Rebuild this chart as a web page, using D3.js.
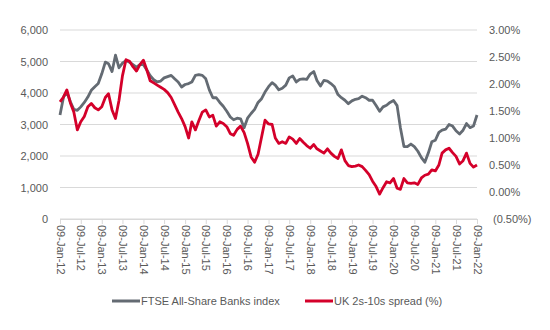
<!DOCTYPE html>
<html>
<head>
<meta charset="utf-8">
<script src="https://cdn.jsdelivr.net/npm/d3@7"></script>
<style>
body { margin: 0; background: #fff; }
svg text { font-family: "Liberation Sans", Arial, sans-serif; font-size: 11px; fill: #595959; }
.grid line { stroke: #d9d9d9; stroke-width: 1; }
</style>
</head>
<body>
<svg width="550" height="330"></svg>
<script>

// monthly closes, Jan 2012 .. Jan 2022
var banksIndex = [
  3300, 3870, 4030, 3720, 3480, 3450, 3560, 3700, 3870, 4085, 4200, 4300,
  4610, 4980, 4930, 4680, 5200, 4800, 4950, 5030, 4980, 4900, 4820, 4900,
  4900, 4720, 4550, 4420, 4350, 4380, 4480, 4520, 4560, 4450, 4350, 4190,
  4270, 4300, 4350, 4560, 4580, 4560, 4450, 4100, 3850, 3850, 3700, 3580,
  3420, 3240, 3150, 3200, 3180, 2900, 3200, 3350, 3480, 3700, 3820, 4030,
  4200, 4330, 4250, 4100, 4150, 4250, 4480, 4540, 4350, 4430, 4450, 4430,
  4600, 4680, 4400, 4220, 4400, 4380, 4300, 4200, 3950, 3850, 3770, 3660,
  3750, 3800, 3820, 3900, 3850, 3770, 3770, 3600, 3420, 3560, 3610, 3700,
  3760, 3600, 2900, 2300, 2300, 2380, 2300, 2150, 1950, 1800, 2100, 2450,
  2500, 2750, 2820, 2850, 3000, 2950, 2800, 2700, 2820, 3030, 2900, 2950,
  3300
];

var spread2s10s = [
  1.67, 1.76, 1.89, 1.65, 1.48, 1.15, 1.30, 1.40, 1.58, 1.64, 1.56, 1.52,
  1.58, 1.75, 1.82, 1.52, 1.36, 1.70, 2.15, 2.45, 2.42, 2.32, 2.24, 2.36,
  2.44, 2.25, 2.06, 2.02, 1.98, 1.94, 1.90, 1.84, 1.75, 1.62, 1.48, 1.36,
  1.21, 1.00, 1.30, 1.15, 1.32, 1.48, 1.52, 1.39, 1.42, 1.22, 1.30, 1.27,
  1.21, 1.08, 1.05, 1.16, 1.22, 1.10, 0.90, 0.65, 0.55, 0.70, 1.02, 1.33,
  1.26, 1.25, 1.00, 0.90, 0.93, 0.90, 1.02, 0.98, 0.90, 0.99, 0.92, 0.86,
  0.81, 0.88, 0.80, 0.76, 0.72, 0.80, 0.72, 0.66, 0.62, 0.78, 0.58, 0.49,
  0.47, 0.48, 0.50, 0.47, 0.40, 0.32, 0.20, 0.10, -0.04, 0.08, 0.19, 0.17,
  0.25, 0.07, 0.05, 0.25, 0.17, 0.16, 0.17, 0.14, 0.26, 0.31, 0.33, 0.41,
  0.39, 0.50, 0.72, 0.78, 0.81, 0.73, 0.66, 0.52, 0.58, 0.72, 0.53, 0.46,
  0.50
];

var leftTicks = [0, 1000, 2000, 3000, 4000, 5000, 6000];
var rightTicks = [-0.5, 0, 0.5, 1, 1.5, 2, 2.5, 3];
var seriesNames = ["FTSE All-Share Banks index", "UK 2s-10s spread (%)"];
var seriesColors = ["#646b73", "#d4002a"];

var dates = banksIndex.map(function(d, i) { return new Date(2012, i, 9); });
var dateTicks = d3.range(21).map(function(i) { return new Date(2012, i * 6, 9); });

var svg = d3.select("svg");
var plotL = 60, plotR = 477, plotT = 30, plotB = 219;

var x = d3.scaleTime()
    .domain([new Date(2012, 0, 9), new Date(2022, 0, 9)])
    .range([plotL, plotR]);
var yL = d3.scaleLinear().domain([0, 6000]).range([plotB, plotT]);
var yR = d3.scaleLinear().domain([-0.5, 3]).range([plotB, plotT]);

// horizontal gridlines follow the left axis
svg.append("g")
    .attr("class", "grid")
  .selectAll("line")
  .data(leftTicks)
  .enter().append("line")
    .attr("x1", plotL).attr("x2", plotR)
    .attr("y1", function(d) { return yL(d); })
    .attr("y2", function(d) { return yL(d); });

// left axis labels
var axL = svg.append("g")
    .attr("transform", "translate(" + (plotL - 12) + ",0)")
    .call(d3.axisLeft(yL).tickValues(leftTicks).tickSize(0).tickPadding(0).tickFormat(d3.format(",")));
axL.select(".domain").remove();
axL.selectAll("text").style("font-size", "11px").style("fill", "#595959");

// right axis labels, accounting style
var axR = svg.append("g")
    .attr("transform", "translate(" + (plotR + 12) + ",0)")
    .call(d3.axisRight(yR).tickValues(rightTicks).tickSize(0).tickPadding(0)
      .tickFormat(function(d) {
        var s = d3.format(".2f")(Math.abs(d)) + "%";
        return d < 0 ? "(" + s + ")" : s;
      }));
axR.select(".domain").remove();
axR.selectAll("text")
    .style("font-size", "11px").style("fill", "#595959")
    .attr("x", function(d) { return d < 0 ? 4 : 0; });

// bottom axis with rotated date labels
var axB = svg.append("g")
    .attr("transform", "translate(0," + plotB + ")")
    .call(d3.axisBottom(x).tickValues(dateTicks).tickSize(5).tickFormat(d3.timeFormat("%d-%b-%y")));
axB.select(".domain").attr("stroke", "#d9d9d9");
axB.selectAll(".tick line").attr("stroke", "#d9d9d9");
axB.selectAll("text")
    .style("font-size", "11px").style("fill", "#595959")
    .attr("transform", "rotate(90)")
    .attr("x", 6).attr("y", 0).attr("dy", "0.35em")
    .attr("text-anchor", "start");

var lineL = d3.line()
    .x(function(d, i) { return x(dates[i]); })
    .y(function(d) { return yL(d); });
var lineR = d3.line()
    .x(function(d, i) { return x(dates[i]); })
    .y(function(d) { return yR(d); });

svg.append("path")
    .datum(banksIndex)
    .attr("fill", "none")
    .attr("stroke", seriesColors[0])
    .attr("stroke-width", 2.8)
    .attr("stroke-linejoin", "round")
    .attr("d", lineL);

svg.append("path")
    .datum(spread2s10s)
    .attr("fill", "none")
    .attr("stroke", seriesColors[1])
    .attr("stroke-width", 2.8)
    .attr("stroke-linejoin", "round")
    .attr("d", lineR);

// legend
var legendX = [112, 305];
var legend = svg.append("g")
  .selectAll("g")
  .data(seriesNames)
  .enter().append("g")
    .attr("transform", function(d, i) { return "translate(" + legendX[i] + ",301)"; });
legend.append("line")
    .attr("x1", 0).attr("x2", 28)
    .attr("stroke", function(d, i) { return seriesColors[i]; })
    .attr("stroke-width", 3);
legend.append("text")
    .attr("x", 29).attr("dy", "0.35em")
    .text(function(d) { return d; });

</script>
</body>
</html>
